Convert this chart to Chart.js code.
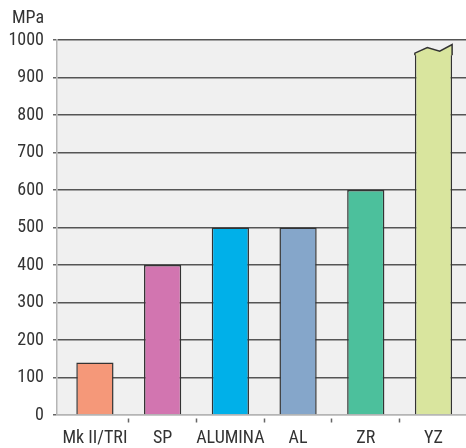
<!DOCTYPE html>
<html>
<head>
<meta charset="utf-8">
<script src="https://cdn.jsdelivr.net/npm/chart.js@4/dist/chart.umd.min.js"></script>
<style>
  html, body { margin:0; padding:0; background:#fff; }
  .box { width:466px; height:448px; position:relative; }
</style>
</head>
<body>
<div class="box"><canvas id="bar" width="466" height="448" style="width:466px; height:448px;"></canvas></div>
<script>
// 데이터
const labels = ['Mk II/TRI', 'SP', 'ALUMINA', 'AL', 'ZR', 'YZ'];
const values = [140, 400, 500, 500, 600, 965];
const colors = ['#f59879', '#d275b0', '#00b0e9', '#85a6ca', '#4cc09c', '#d9e59e'];
const yTicks = [0, 100, 200, 300, 400, 500, 600, 700, 800, 900, 1000];
// x축: 막대 위치(정수)와 구분 눈금(0.5 단위)
const xTicks = [0, 0.5, 1, 1.5, 2, 2.5, 3, 3.5, 4, 4.5, 5];
// YZ 막대 위 물결 모양 (왼쪽 -> 오른쪽)
const capValues = [965, 980, 970, 988];

const FONT = '"Liberation Sans Narrow", "Roboto Condensed", "Liberation Sans", sans-serif';

// 배경 + 단위
const plotBg = {
    id: 'plotBg',
    beforeDraw(chart){
        const {ctx, chartArea} = chart;
        ctx.save();
        ctx.fillStyle = '#f0f0f0';
        ctx.fillRect(chartArea.left, chartArea.top, chartArea.right - chartArea.left, chartArea.bottom - chartArea.top);
        ctx.restore();
    },
    afterDraw(chart){
        const {ctx} = chart;
        const y = chart.scales.y;
        ctx.save();
        ctx.fillStyle = '#333';
        ctx.font = '18px ' + FONT;
        ctx.textAlign = 'right';
        ctx.textBaseline = 'middle';
        ctx.fillText('MPa', y.right - 13, 18);
        ctx.restore();
    }
};

// 물결 모양 윗부분
const wavyTop = {
    id: 'wavyTop',
    afterDatasetsDraw(chart){
        const {ctx} = chart;
        const meta = chart.getDatasetMeta(0);
        const bar = meta.data[meta.data.length - 1];
        const y = chart.scales.y;
        const left = bar.x - bar.width / 2;
        const w = bar.width;
        const base = y.getPixelForValue(values[values.length - 1]);
        const pts = capValues.map((v, i) => [left + w * i / (capValues.length - 1), y.getPixelForValue(v)]);
        ctx.save();
        ctx.beginPath();
        ctx.moveTo(left, base + 2);
        pts.forEach(p => ctx.lineTo(p[0], p[1]));
        ctx.lineTo(left + w, base + 2);
        ctx.closePath();
        ctx.fillStyle = colors[colors.length - 1];
        ctx.fill();
        ctx.beginPath();
        ctx.moveTo(left, base + 2);
        pts.forEach(p => ctx.lineTo(p[0], p[1]));
        ctx.lineTo(left + w, base + 2);
        ctx.strokeStyle = '#333';
        ctx.lineWidth = 1.5;
        ctx.stroke();
        ctx.restore();
    }
};

new Chart(document.getElementById('bar'), {
    type: 'bar',
    data: {
        datasets: [{
            data: values.map((v, i) => ({x: i, y: v})),
            backgroundColor: colors,
            borderColor: '#333',
            borderWidth: (c) => c.dataIndex === values.length - 1
                ? {top: 0, left: 1.5, right: 1.5, bottom: 0}
                : {top: 1.5, left: 1.5, right: 1.5, bottom: 0},
            borderSkipped: false,
            // 눈금 간격(0.5) 기준이라 1.1 = 막대 간격의 55%
            barPercentage: 1.1,
            categoryPercentage: 1
        }]
    },
    options: {
        responsive: false,
        animation: false,
        devicePixelRatio: 1,
        layout: { padding: { top: 40, right: 0, left: 0, bottom: 0 } },
        plugins: {
            legend: { display: false },
            tooltip: { enabled: false }
        },
        scales: {
            x: {
                type: 'linear',
                min: -0.56,
                max: 5.48,
                offset: false,
                afterFit(scale){ scale.height = 33; },
                afterBuildTicks(scale){ scale.ticks = xTicks.map(v => ({value: v})); },
                grid: {
                    offset: false,
                    drawOnChartArea: false,
                    tickLength: 8,
                    tickBorderDash: [0, 3, 4, 100],
                    tickColor: (c) => (c.tick && c.tick.value % 1 !== 0) ? '#666' : 'rgba(0,0,0,0)',
                    tickWidth: 1.5
                },
                border: { color: '#b5b5b5', width: 1.5 },
                ticks: {
                    color: '#333',
                    padding: 5,
                    autoSkip: false,
                    maxRotation: 0,
                    minRotation: 0,
                    font: { family: FONT, size: 18 },
                    callback: (v) => v % 1 === 0 ? labels[v] : ''
                }
            },
            y: {
                min: 0,
                max: 1000,
                afterFit(scale){ scale.width = 57; },
                afterBuildTicks(scale){ scale.ticks = yTicks.map(v => ({value: v})); },
                grid: {
                    color: (c) => c.tick && c.tick.value === 0 ? '#b5b5b5' : '#555',
                    lineWidth: 1.5,
                    tickLength: 7,
                    tickBorderDash: [0, 3, 3, 100],
                    tickColor: '#666',
                    tickWidth: 1.5
                },
                border: { color: '#b5b5b5', width: 1.5 },
                ticks: {
                    color: '#333',
                    padding: 6,
                    autoSkip: false,
                    font: { family: FONT, size: 18 },
                    callback: (v) => String(v)
                }
            }
        }
    },
    plugins: [plotBg, wavyTop]
});
</script>
</body>
</html>
